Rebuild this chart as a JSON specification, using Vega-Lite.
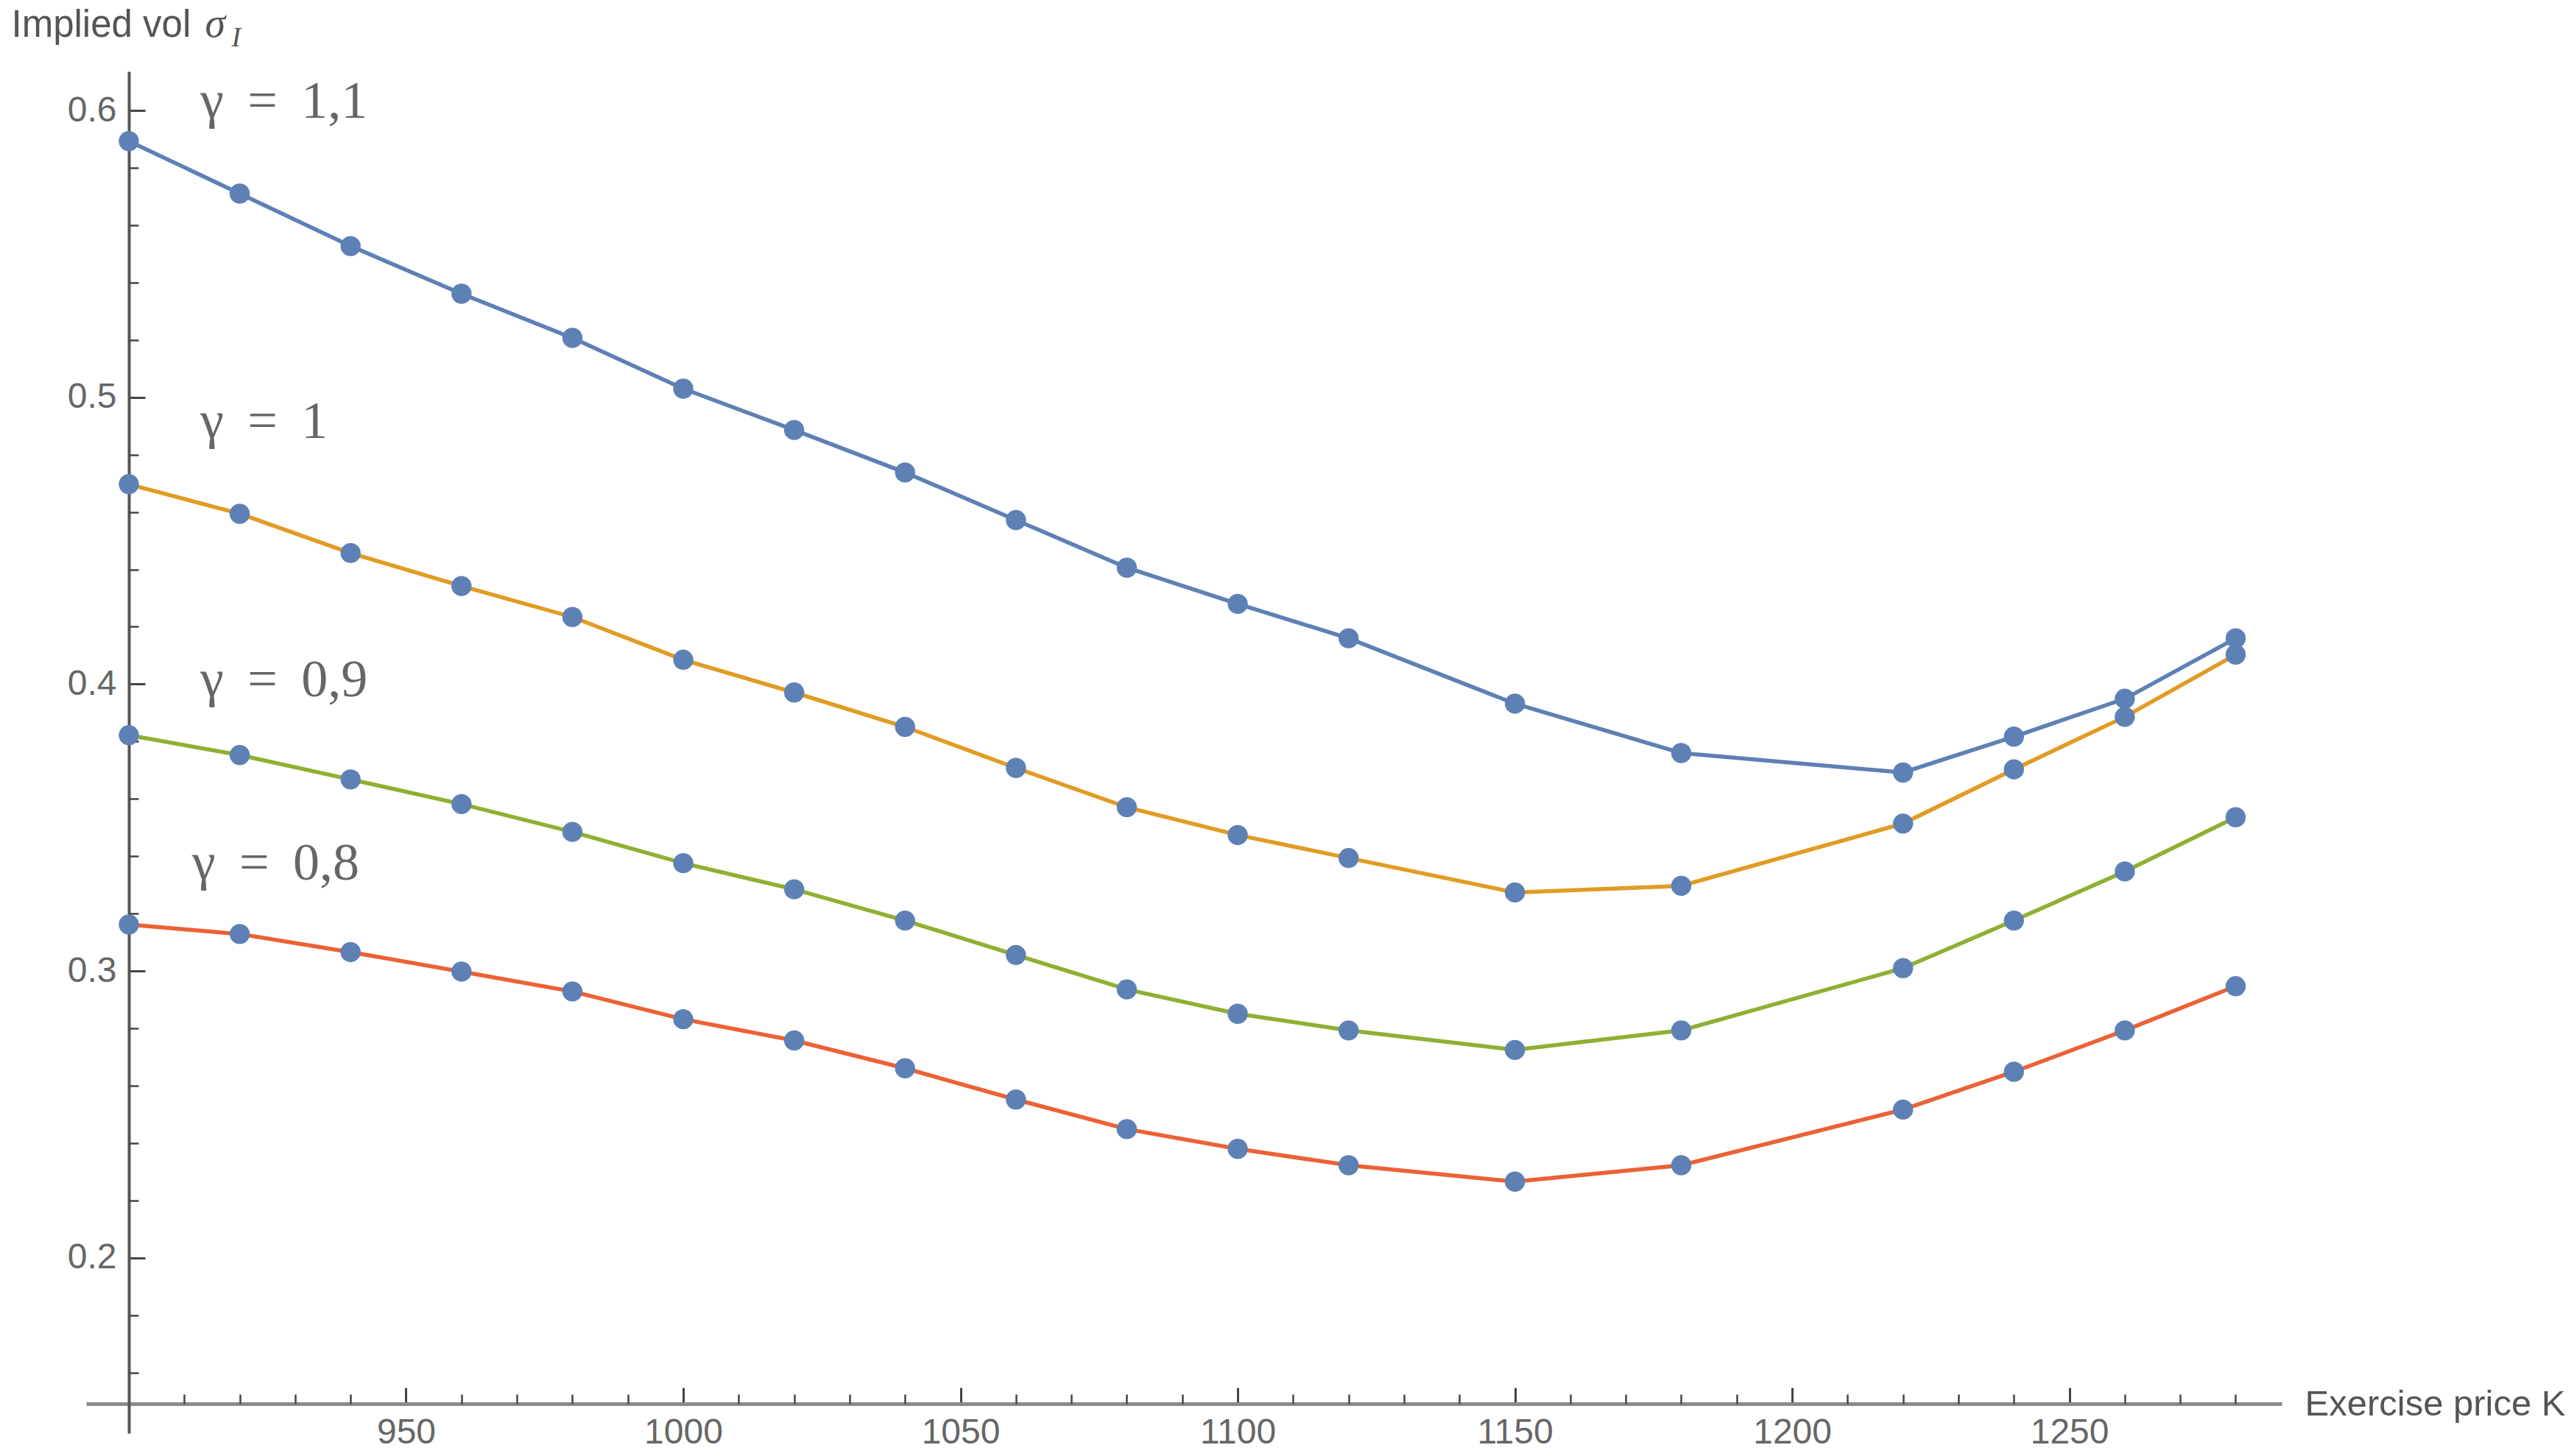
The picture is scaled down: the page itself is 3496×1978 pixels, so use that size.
{
  "$schema": "https://vega.github.io/schema/vega-lite/v6.json",
  "width": 2982,
  "height": 1850,
  "autosize": {"type": "none"},
  "padding": {"left": 117, "top": 97, "right": 397, "bottom": 31},
  "background": "white",
  "config": {"view": {"stroke": null}, "axis": {"grid": false}},
  "datasets": {
    "curves": [
      {"K": 900, "vol": 0.5893, "g": "1,1"}, {"K": 920, "vol": 0.5710, "g": "1,1"}, {"K": 940, "vol": 0.5527, "g": "1,1"},
      {"K": 960, "vol": 0.5361, "g": "1,1"}, {"K": 980, "vol": 0.5207, "g": "1,1"}, {"K": 1000, "vol": 0.5030, "g": "1,1"},
      {"K": 1020, "vol": 0.4886, "g": "1,1"}, {"K": 1040, "vol": 0.4738, "g": "1,1"}, {"K": 1060, "vol": 0.4572, "g": "1,1"},
      {"K": 1080, "vol": 0.4406, "g": "1,1"}, {"K": 1100, "vol": 0.4280, "g": "1,1"}, {"K": 1120, "vol": 0.4160, "g": "1,1"},
      {"K": 1150, "vol": 0.3932, "g": "1,1"}, {"K": 1180, "vol": 0.3760, "g": "1,1"}, {"K": 1220, "vol": 0.3692, "g": "1,1"},
      {"K": 1240, "vol": 0.3817, "g": "1,1"}, {"K": 1260, "vol": 0.3949, "g": "1,1"}, {"K": 1280, "vol": 0.4160, "g": "1,1"},
      {"K": 900, "vol": 0.4697, "g": "1"}, {"K": 920, "vol": 0.4594, "g": "1"}, {"K": 940, "vol": 0.4457, "g": "1"},
      {"K": 960, "vol": 0.4342, "g": "1"}, {"K": 980, "vol": 0.4234, "g": "1"}, {"K": 1000, "vol": 0.4085, "g": "1"},
      {"K": 1020, "vol": 0.3971, "g": "1"}, {"K": 1040, "vol": 0.3851, "g": "1"}, {"K": 1060, "vol": 0.3708, "g": "1"},
      {"K": 1080, "vol": 0.3571, "g": "1"}, {"K": 1100, "vol": 0.3474, "g": "1"}, {"K": 1120, "vol": 0.3394, "g": "1"},
      {"K": 1150, "vol": 0.3274, "g": "1"}, {"K": 1180, "vol": 0.3297, "g": "1"}, {"K": 1220, "vol": 0.3514, "g": "1"},
      {"K": 1240, "vol": 0.3703, "g": "1"}, {"K": 1260, "vol": 0.3886, "g": "1"}, {"K": 1280, "vol": 0.4103, "g": "1"},
      {"K": 900, "vol": 0.3822, "g": "0,9"}, {"K": 920, "vol": 0.3753, "g": "0,9"}, {"K": 940, "vol": 0.3668, "g": "0,9"},
      {"K": 960, "vol": 0.3582, "g": "0,9"}, {"K": 980, "vol": 0.3485, "g": "0,9"}, {"K": 1000, "vol": 0.3376, "g": "0,9"},
      {"K": 1020, "vol": 0.3285, "g": "0,9"}, {"K": 1040, "vol": 0.3176, "g": "0,9"}, {"K": 1060, "vol": 0.3056, "g": "0,9"},
      {"K": 1080, "vol": 0.2936, "g": "0,9"}, {"K": 1100, "vol": 0.2851, "g": "0,9"}, {"K": 1120, "vol": 0.2793, "g": "0,9"},
      {"K": 1150, "vol": 0.2725, "g": "0,9"}, {"K": 1180, "vol": 0.2793, "g": "0,9"}, {"K": 1220, "vol": 0.3010, "g": "0,9"},
      {"K": 1240, "vol": 0.3176, "g": "0,9"}, {"K": 1260, "vol": 0.3347, "g": "0,9"}, {"K": 1280, "vol": 0.3536, "g": "0,9"},
      {"K": 900, "vol": 0.3162, "g": "0,8"}, {"K": 920, "vol": 0.3129, "g": "0,8"}, {"K": 940, "vol": 0.3066, "g": "0,8"},
      {"K": 960, "vol": 0.2998, "g": "0,8"}, {"K": 980, "vol": 0.2929, "g": "0,8"}, {"K": 1000, "vol": 0.2832, "g": "0,8"},
      {"K": 1020, "vol": 0.2758, "g": "0,8"}, {"K": 1040, "vol": 0.2661, "g": "0,8"}, {"K": 1060, "vol": 0.2552, "g": "0,8"},
      {"K": 1080, "vol": 0.2449, "g": "0,8"}, {"K": 1100, "vol": 0.2380, "g": "0,8"}, {"K": 1120, "vol": 0.2323, "g": "0,8"},
      {"K": 1150, "vol": 0.2266, "g": "0,8"}, {"K": 1180, "vol": 0.2323, "g": "0,8"}, {"K": 1220, "vol": 0.2517, "g": "0,8"},
      {"K": 1240, "vol": 0.2649, "g": "0,8"}, {"K": 1260, "vol": 0.2793, "g": "0,8"}, {"K": 1280, "vol": 0.2947, "g": "0,8"}
    ],
    "labels": [
      {"K": 912.9, "vol": 0.6031, "label": "γ \u2009= \u20091,1"},
      {"K": 912.9, "vol": 0.4915, "label": "γ \u2009= \u20091"},
      {"K": 912.9, "vol": 0.4014, "label": "γ \u2009= \u20090,9"},
      {"K": 911.4, "vol": 0.3375, "label": "γ \u2009= \u20090,8"}
    ]
  },
  "layer": [
    {
      "data": {"name": "curves"},
      "mark": {"type": "line", "strokeWidth": 5.5},
      "encoding": {
        "x": {
          "field": "K", "type": "quantitative",
          "scale": {"domain": [892.3, 1288.3], "nice": false, "zero": false},
          "axis": {
            "orient": "bottom",
            "values": [950, 1000, 1050, 1100, 1150, 1200, 1250], "format": "d",
            "offset": -40, "tickSize": -22, "tickWidth": 3, "tickColor": "#444444",
            "domainColor": "#8a8a8a", "domainWidth": 5,
            "labelFont": "Liberation Sans", "labelFontSize": 48, "labelColor": "#666666",
            "labelPadding": 37,
            "title": "Exercise price K", "titleX": 3013, "titleY": 0, "titleAlign": "left",
            "titleBaseline": "middle", "titleAngle": 0, "titleFont": "Liberation Sans",
            "titleFontSize": 49, "titleFontWeight": "normal", "titleColor": "#555555"
          }
        },
        "y": {
          "field": "vol", "type": "quantitative",
          "scale": {"domain": [0.1389, 0.6136], "nice": false, "zero": false},
          "axis": {
            "orient": "left",
            "values": [0.2, 0.3, 0.4, 0.5, 0.6], "format": ".1f",
            "offset": -58, "tickSize": -22, "tickWidth": 3, "tickColor": "#444444",
            "domainColor": "#555555", "domainWidth": 4,
            "labelFont": "Liberation Sans", "labelFontSize": 48, "labelColor": "#666666",
            "labelPadding": 39,
            "title": "Implied vol", "titleX": -160, "titleY": -48, "titleAlign": "left",
            "titleBaseline": "alphabetic", "titleAngle": 0, "titleFont": "Liberation Sans",
            "titleFontSize": 51, "titleFontWeight": "normal", "titleColor": "#555555"
          }
        },
        "color": {
          "field": "g", "type": "nominal",
          "scale": {"domain": ["1,1", "1", "0,9", "0,8"], "range": ["#5E81B5", "#E19C24", "#8FB032", "#EB6235"]},
          "legend": null
        }
      }
    },
    {
      "data": {"name": "curves"},
      "mark": {"type": "point", "filled": true, "size": 750, "color": "#5E81B5", "opacity": 1},
      "encoding": {
        "x": {
          "field": "K", "type": "quantitative",
          "scale": {"domain": [892.3, 1288.3], "nice": false, "zero": false},
          "axis": {
            "orient": "bottom",
            "values": [910, 920, 930, 940, 960, 970, 980, 990, 1010, 1020, 1030, 1040, 1060, 1070, 1080, 1090, 1110, 1120, 1130, 1140, 1160, 1170, 1180, 1190, 1210, 1220, 1230, 1240, 1260, 1270, 1280],
            "offset": -40, "tickSize": -13, "tickWidth": 2.5, "tickColor": "#444444",
            "domain": false, "labels": false, "title": null
          }
        },
        "y": {
          "field": "vol", "type": "quantitative",
          "scale": {"domain": [0.1389, 0.6136], "nice": false, "zero": false},
          "axis": {
            "orient": "left",
            "values": [0.16, 0.18, 0.22, 0.24, 0.26, 0.28, 0.32, 0.34, 0.36, 0.38, 0.42, 0.44, 0.46, 0.48, 0.52, 0.54, 0.56, 0.58],
            "offset": -58, "tickSize": -13, "tickWidth": 2.5, "tickColor": "#444444",
            "domain": false, "labels": false,
            "title": "σ", "titleX": 103, "titleY": -48, "titleAlign": "left",
            "titleBaseline": "alphabetic", "titleAngle": 0, "titleFont": "Liberation Serif",
            "titleFontSize": 56, "titleFontStyle": "italic", "titleFontWeight": "normal", "titleColor": "#555555"
          }
        }
      }
    },
    {
      "data": {"name": "labels"},
      "mark": {"type": "text", "font": "Liberation Serif", "fontSize": 72, "color": "#666666", "align": "left", "baseline": "middle"},
      "encoding": {
        "x": {
          "field": "K", "type": "quantitative",
          "scale": {"domain": [892.3, 1288.3], "nice": false, "zero": false},
          "axis": null
        },
        "y": {
          "field": "vol", "type": "quantitative",
          "scale": {"domain": [0.1389, 0.6136], "nice": false, "zero": false},
          "axis": {
            "orient": "left", "offset": -58, "ticks": false, "labels": false, "domain": false,
            "title": "I", "titleX": 139, "titleY": -35, "titleAlign": "left",
            "titleBaseline": "alphabetic", "titleAngle": 0, "titleFont": "Liberation Serif",
            "titleFontSize": 38, "titleFontStyle": "italic", "titleFontWeight": "normal", "titleColor": "#555555"
          }
        },
        "text": {"field": "label"}
      }
    }
  ],
  "resolve": {"axis": {"x": "independent", "y": "independent"}}
}
